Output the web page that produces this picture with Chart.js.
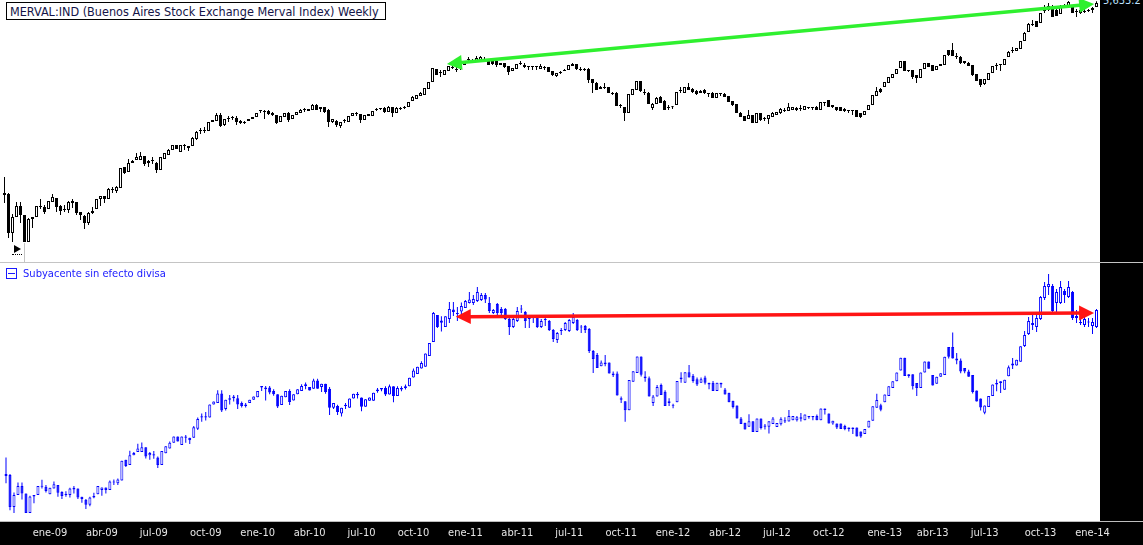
<!DOCTYPE html>
<html>
<head>
<meta charset="utf-8">
<script src="https://cdn.jsdelivr.net/npm/chart.js@4.4.1/dist/chart.umd.min.js"></script>
<style>
  html, body { margin:0; padding:0; background:#fff; }
  body { width:1143px; height:545px; position:relative; overflow:hidden; font-family: Tahoma, 'DejaVu Sans Condensed', 'Liberation Sans', sans-serif; }
  canvas { position:absolute; left:0; }
  #cTop { top:0; }
  #cBot { top:264px; }
  #rightBar { position:absolute; left:1100px; top:0; width:43px; height:545px; background:#000; }
  #axisBand { position:absolute; left:0; top:521px; width:1143px; height:24px; background:#000; border-top:1px solid #bdbdbd; box-sizing:border-box; }
  #sep { position:absolute; left:0; top:262px; width:1143px; height:1px; background:#c4c4c4; }
  #price { position:absolute; left:1103px; top:-6px; color:#bfe2ff; font-size:11px; white-space:nowrap; }
  #title { position:absolute; left:6px; top:2px; width:375px; height:16px; border:1px solid #000; background:#fff; color:#141448; line-height:16px; padding-left:3px; white-space:nowrap; }
  #title span { font-size:11px; }
  #legend2 { position:absolute; left:6px; top:265px; color:#1a1aff; line-height:13px; white-space:nowrap; }
  #legend2 .ico { display:inline-block; width:9px; height:9px; border:1px solid #1a1aff; position:relative; vertical-align:-2px; margin-right:6px; }
  #legend2 .ico::after { content:''; position:absolute; left:1px; right:1px; top:4px; height:1px; background:#1a1aff; }
  #legend2 span.t { font-size:11px; }
  .w { position:absolute; }
</style>
</head>
<body>
<div id="rightBar"></div>
<div id="axisBand"></div>
<canvas id="cTop" width="1100" height="262"></canvas>
<canvas id="cBot" width="1143" height="281"></canvas>
<div id="sep"></div>
<div id="title"><span id="titleText">MERVAL:IND (Buenos Aires Stock Exchange Merval Index) Weekly</span></div>
<div id="legend2"><span class="ico"></span><span class="t" id="legText">Subyacente sin efecto divisa</span></div>
<div id="price">5,633.2</div>
<div class="w" style="left:14px;top:245px;width:0;height:0;border-left:7px solid #000;border-top:4px solid transparent;border-bottom:4px solid transparent"></div>
<div class="w" style="left:12px;top:254px;width:10px;height:0;border-top:1px dotted #000"></div>
<div class="w" style="left:24px;top:243px;width:1px;height:19px;background:#c4c4c4"></div>
<script>
// ---------- DATA ----------
const startWeek = '2008-10-20';
const monthAbbr = ['ene','feb','mar','abr','may','jun','jul','ago','sep','oct','nov','dic'];
const quarterMonths = [0,3,6,9];

// MERVAL weekly OHLC (index points)
const tOpen = [
1214,1204,878,1000,1092,1016,817,984,1000,1084,1084,1067,1129,1166,1092,1067,1058,1138,1129,1041,
1008,953,1033,1067,1156,1185,1156,1243,1233,1264,1498,1439,1547,1585,1585,1637,1547,1572,1547,1462,
1598,1650,1718,1789,1691,1789,1775,1775,1878,2004,2020,2004,2155,2173,2280,2103,2226,2226,2226,2173,
2155,2173,2208,2244,2355,2355,2355,2318,2280,2155,2244,2318,2208,2280,2318,2394,2394,2374,2472,2394,
2433,2374,2155,2173,2086,2190,2155,2262,2318,2299,2190,2262,2262,2374,2394,2413,2336,2433,2318,2413,
2413,2433,2554,2595,2659,2680,2814,2978,3307,3228,3150,3254,3362,3307,3334,3416,3585,3528,3528,3556,
3585,3528,3528,3528,3416,3472,3389,3254,3307,3472,3416,3389,3389,3389,3307,3362,3362,3254,3125,3228,
3254,3280,3389,3444,3307,3307,3307,3050,2954,2814,2860,2860,2724,2724,2472,2433,2318,2680,2791,3002,
2747,2724,2413,2492,2638,2554,2433,2433,2472,2791,2724,2860,2814,2769,2724,2791,2724,2724,2616,2724,
2702,2659,2554,2492,2318,2262,2208,2280,2138,2318,2226,2208,2244,2280,2318,2374,2355,2374,2374,2413,
2374,2433,2433,2433,2374,2533,2574,2433,2433,2433,2394,2374,2374,2374,2318,2280,2374,2472,2659,2814,
2860,2954,3075,3176,3334,3528,3280,3280,3150,3075,3307,3472,3416,3280,3389,3416,3855,3855,3674,3644,
3528,3472,3416,3176,3050,2930,3026,3202,3389,3444,3416,3644,3855,3825,3887,4147,4460,4758,4874,4797,
5326,5326,5370,5326,5158,5502,5502,5458,5284,5326,5284,5326,5326,5458];
const tHigh = [
1382,1214,1024,1129,1129,1016,992,1000,1092,1156,1101,1138,1204,1166,1101,1101,1138,1156,1129,1041,
1016,1041,1084,1156,1185,1185,1264,1274,1285,1486,1498,1598,1585,1677,1691,1637,1585,1624,1560,1624,
1677,1732,1789,1789,1789,1804,1775,1909,2004,2053,2070,2155,2190,2318,2318,2208,2262,2262,2262,2190,
2173,2208,2244,2318,2374,2374,2374,2336,2280,2262,2318,2336,2280,2336,2394,2413,2394,2492,2492,2433,
2433,2394,2208,2190,2155,2208,2262,2318,2336,2299,2280,2299,2355,2413,2413,2433,2452,2433,2433,2433,
2452,2533,2659,2680,2747,2837,2978,3334,3307,3280,3280,3389,3416,3389,3444,3500,3644,3585,3674,3674,
3644,3528,3528,3528,3472,3472,3389,3334,3444,3528,3472,3389,3389,3389,3444,3389,3362,3254,3202,3254,
3307,3416,3472,3444,3362,3334,3334,3050,2978,2883,2954,2860,2747,2747,2492,2433,2702,2814,3002,3002,
2814,2747,2513,2638,2659,2574,2472,2452,2747,2860,2860,2954,2837,2791,2791,2814,2724,2747,2724,2724,
2724,2659,2554,2492,2336,2262,2374,2280,2318,2318,2244,2280,2336,2336,2413,2413,2513,2433,2433,2472,
2452,2433,2433,2452,2533,2533,2574,2472,2433,2433,2413,2374,2374,2374,2318,2355,2472,2680,2860,2837,
2978,3100,3176,3307,3528,3528,3280,3280,3150,3307,3472,3472,3416,3389,3444,3703,3855,4081,3764,3674,
3528,3500,3416,3176,3050,3050,3202,3389,3472,3444,3585,3825,3951,3919,4147,4460,4797,4913,4874,5200,
5546,5637,5546,5370,5546,5591,5728,5458,5370,5414,5370,5370,5458,5720];
const tLow = [
1119,844,817,1000,953,817,817,915,1000,1067,1024,1067,1129,1041,1016,1041,1033,1075,1016,976,
907,937,1024,1067,1092,1119,1156,1214,1214,1264,1416,1439,1547,1585,1585,1510,1498,1535,1427,1462,
1598,1650,1718,1732,1691,1718,1704,1775,1863,1956,1972,2004,2155,2173,2070,2086,2155,2190,2103,2120,
2120,2173,2208,2244,2318,2208,2280,2262,2120,2155,2244,2155,2208,2280,2318,2336,2355,2374,2374,2336,
2318,2070,2138,2070,2053,2138,2155,2262,2262,2138,2190,2262,2262,2355,2374,2318,2336,2244,2318,2374,
2394,2433,2554,2595,2659,2680,2814,2978,3150,3100,3150,3254,3307,3228,3280,3416,3472,3472,3528,3556,
3528,3416,3416,3362,3416,3334,3150,3254,3307,3416,3334,3280,3280,3280,3307,3280,3228,3125,3100,3176,
3254,3280,3389,3280,3254,3254,2954,2724,2791,2814,2814,2724,2680,2452,2413,2173,2318,2680,2791,2747,
2680,2492,2374,2492,2513,2374,2374,2394,2472,2724,2724,2791,2724,2680,2724,2702,2638,2616,2616,2659,
2638,2533,2452,2318,2244,2173,2208,2138,2138,2173,2173,2120,2244,2280,2299,2336,2355,2374,2355,2355,
2374,2394,2374,2374,2374,2452,2433,2413,2355,2355,2336,2318,2280,2244,2226,2280,2374,2472,2659,2724,
2860,2954,3075,3176,3334,3254,3228,3050,2954,3075,3307,3362,3254,3280,3389,3416,3674,3674,3585,3444,
3444,3389,3125,3002,2860,2906,3026,3202,3280,3254,3416,3644,3764,3825,3887,4147,4460,4682,4644,4797,
5200,5284,5035,5075,5158,5414,5458,5200,5035,5158,5200,5242,5200,5458];
const tClose = [
1194,878,1000,1092,1016,817,984,1000,1092,1092,1041,1138,1175,1084,1050,1058,1129,1119,1033,1016,
953,1033,1050,1156,1185,1156,1253,1253,1274,1486,1427,1547,1572,1624,1637,1535,1572,1585,1462,1624,
1677,1718,1789,1732,1789,1775,1746,1894,1988,2020,2004,2155,2190,2280,2086,2208,2208,2244,2155,2138,
2138,2208,2244,2318,2374,2336,2299,2280,2138,2262,2318,2190,2280,2336,2374,2374,2355,2472,2374,2433,
2336,2155,2208,2103,2155,2173,2262,2318,2299,2190,2280,2299,2355,2394,2413,2336,2433,2318,2413,2394,
2433,2533,2638,2680,2724,2837,2978,3334,3150,3202,3280,3389,3334,3280,3389,3500,3556,3500,3615,3644,
3556,3416,3444,3416,3472,3362,3228,3334,3444,3444,3362,3362,3362,3362,3389,3334,3228,3150,3202,3202,
3280,3416,3444,3307,3280,3280,3026,2954,2791,2860,2837,2724,2702,2452,2452,2318,2702,2814,3002,2769,
2724,2492,2492,2616,2513,2374,2413,2425,2747,2769,2860,2791,2747,2702,2769,2724,2702,2616,2724,2702,
2638,2533,2472,2318,2244,2173,2280,2138,2318,2190,2208,2280,2318,2336,2394,2355,2433,2433,2413,2394,
2452,2413,2413,2374,2533,2513,2433,2472,2374,2355,2355,2355,2355,2244,2244,2355,2472,2680,2769,2747,
2978,3100,3176,3307,3528,3254,3254,3100,3075,3307,3472,3362,3254,3389,3444,3703,3703,3674,3644,3472,
3472,3389,3150,3002,2906,3050,3202,3389,3416,3416,3585,3794,3825,3919,4147,4425,4758,4719,4644,5200,
5284,5502,5035,5075,5458,5546,5682,5200,5242,5200,5242,5284,5414,5633.2];

// Underlying without currency effect (deflated points, linear panel)
const bOpen = [
1190,1180,860,980,1070,996,801,964,980,1062,1062,
987,1044,1079,1010,987,979,1053,1044,963,932,882,956,987,
1029,1055,1029,1106,1097,1125,1333,1281,1377,1411,1411,1457,1377,
1376,1354,1279,1398,1444,1503,1565,1480,1565,1553,1553,1643,1754,
1768,1754,1886,1901,1995,1840,1948,1948,1948,1901,1886,1901,1932,
1957,2054,2054,2054,2021,1988,1879,1957,2021,1925,1988,2021,2088,
2059,2042,2126,2059,2092,2042,1853,1869,1794,1883,1853,1945,1993,
1954,1862,1923,1923,2018,2035,2051,1986,2068,1970,2051,2051,2068,
2156,2190,2244,
2262,2370,2510,2780,2724,2659,2740,2835,2800,2814,
2850,2900,2900,2920,2930,2980,2900,2800,2890,2840,2840,2740,2660,
2720,2840,2810,2745,2760,2760,2660,2735,2720,2630,2530,2625,2630,
2620,2700,2730,2665,2670,2640,2420,
2381,2268,2305,2305,2196,2196,
1948,1917,1827,2112,2199,2366,2165,2147,1901,1964,2079,2013,1917,
1878,1908,2155,2103,2208,2172,2138,2103,2155,2103,2103,2020,2103,
2035,2002,1923,1876,1745,1703,1663,1717,1610,1745,1676,1663,1690,
1660,1688,1728,1714,1728,1728,1757,1728,1771,1771,1771,1728,1844,
1794,1696,1696,1696,1669,1655,1655,1655,1616,1589,1655,1723,1853,
1877,1908,1970,2051,2118,2224,2353,2188,2188,2101,2051,2206,2316,
2179,2093,2162,2179,2459,2459,2344,2325,2251,2215,2179,2026,1946,
1802,1861,1969,2084,2118,2033,2168,2294,2276,2313,
2470,2590,2700,2660,2740,2950,3060,3070,2900,2900,3020,2960,3010,2770,2710,2680,2715,2670,2660];
const bHigh = [
1354,1190,1004,1106,1106,996,972,980,1070,1133,1079,
1053,1114,1079,1018,1018,1053,1069,1044,963,940,963,1003,1069,
1055,1055,1125,1134,1144,1323,1333,1422,1411,1493,1505,1457,1411,
1421,1365,1421,1467,1516,1565,1565,1565,1579,1553,1670,1754,1796,
1811,1886,1916,2028,2028,1932,1979,1979,1979,1916,1901,1932,1964,
2021,2070,2070,2070,2037,1988,1972,2021,2037,1988,2037,2088,2104,
2059,2143,2143,2092,2092,2059,1899,1883,1853,1899,1945,1993,2009,
1954,1938,1954,2002,2051,2051,2068,2084,2068,2068,2068,2084,2153,
2244,2262,2318,
2394,2500,2810,2780,2768,2768,2910,2910,2860,2905,
2930,3010,2980,3060,3000,3000,2960,2840,2900,2860,2850,2750,2750,
2860,2880,2820,2760,2780,2770,2740,2760,2730,2640,2610,2650,2710,
2740,2800,2740,2680,2680,2650,2430,
2400,2324,2381,2305,2214,2214,
1964,1917,2129,2217,2366,2366,2217,2165,1980,2079,2095,2028,1948,
1893,2121,2208,2208,2280,2190,2155,2155,2172,2103,2121,2103,2103,
2051,2002,1923,1876,1759,1703,1788,1717,1745,1745,1690,1717,1759,
1701,1757,1757,1829,1771,1771,1800,1785,1771,1771,1785,1844,1844,
1794,1723,1696,1696,1682,1655,1655,1655,1616,1641,1723,1868,1993,
1892,1986,2068,2118,2206,2353,2353,2188,2188,2101,2206,2316,2316,
2179,2162,2197,2363,2459,2604,2401,2344,2251,2233,2179,2026,1946,
1876,1969,2084,2135,2118,2133,2276,2351,2332,2467,
2620,2760,2810,2780,2970,3110,3190,3090,3040,3120,3040,3120,3020,2830,2780,2760,2750,2750,2840];
const bLow = [
1097,827,801,980,934,801,801,897,980,1046,1004,
987,1044,963,940,963,956,994,940,903,839,867,947,987,
972,996,1029,1080,1080,1125,1260,1281,1377,1411,1411,1344,1333,
1343,1249,1279,1398,1444,1503,1516,1480,1503,1491,1553,1630,1712,
1726,1754,1886,1901,1811,1825,1886,1916,1840,1855,1855,1901,1932,
1957,2021,1925,1988,1972,1849,1879,1957,1879,1925,1988,2021,2037,
2025,2042,2042,2009,1993,1780,1839,1780,1766,1839,1853,1945,1945,
1817,1862,1923,1923,2002,2018,1970,1986,1907,1970,2018,2035,2068,
2156,2190,2244,
2262,2370,2510,2650,2616,2659,2700,2770,2720,2770,
2850,2895,2880,2910,2920,2900,2800,2790,2760,2780,2730,2580,2650,
2710,2800,2650,2650,2700,2650,2650,2670,2620,2510,2500,2580,2620,
2610,2690,2620,2600,2600,2400,2200,
2250,2268,2268,2196,2160,1976,
1901,1712,1827,2112,2199,2165,2112,1964,1871,1964,1980,1871,1871,
1848,1908,2103,2103,2155,2103,2069,2103,2086,2037,2020,2020,2053,
1986,1907,1846,1745,1690,1636,1663,1610,1610,1636,1636,1596,1690,
1660,1674,1701,1714,1728,1714,1714,1728,1743,1728,1728,1728,1785,
1696,1682,1641,1641,1628,1616,1589,1564,1552,1589,1655,1723,1853,
1817,1908,1970,2051,2118,2224,2170,2153,2034,1970,2051,2206,2242,
2076,2093,2162,2179,2344,2344,2287,2197,2197,2162,1994,1915,1825,
1787,1861,1969,2017,2001,2033,2168,2240,2276,2313,
2460,2580,2630,2610,2730,2930,2980,2800,2800,2890,2900,2950,2730,2700,2680,2660,2660,2590,2650];
const bClose = [
1170,860,980,1070,996,801,964,980,1070,1070,1020,
1053,1087,1003,971,979,1044,1035,956,940,882,956,971,1069,
1055,1029,1115,1115,1134,1323,1270,1377,1399,1445,1457,1366,1399,
1387,1279,1421,1467,1503,1565,1516,1565,1553,1528,1657,1740,1768,
1754,1886,1916,1995,1825,1932,1932,1964,1886,1871,1871,1932,1964,
2021,2070,2037,2005,1988,1864,1972,2021,1910,1988,2037,2070,2070,
2025,2126,2042,2092,2009,1853,1899,1809,1853,1869,1945,1993,1977,
1862,1938,1954,2002,2035,2051,1986,2068,1970,2051,2035,2068,2153,
2226,2262,2299,
2394,2500,2800,2660,2702,2768,2840,2810,2790,2870,
2920,2935,2940,3010,2980,2935,2820,2830,2800,2800,2740,2660,2740,
2820,2835,2720,2740,2755,2660,2720,2730,2630,2540,2600,2620,2700,
2730,2760,2630,2655,2630,2420,2340,
2250,2305,2287,2196,2178,1976,
1932,1827,2129,2217,2366,2182,2147,1964,1964,2061,1980,1871,1901,
1872,2121,2138,2208,2155,2121,2086,2138,2103,2086,2020,2103,2086,
1986,1907,1861,1745,1690,1636,1717,1610,1745,1649,1663,1717,1745,
1701,1743,1714,1771,1771,1757,1743,1785,1757,1757,1728,1844,1829,
1696,1723,1655,1641,1641,1641,1641,1564,1564,1641,1723,1868,1930,
1832,1986,2068,2118,2206,2353,2170,2170,2068,2051,2206,2316,2242,
2076,2162,2197,2363,2363,2344,2325,2215,2215,2162,2010,1915,1854,
1876,1969,2084,2101,2101,2133,2257,2276,2332,2467,
2580,2720,2680,2750,2960,3070,3090,2820,3010,3060,2980,3060,2750,2750,2700,2740,2705,2710,2830];

// Annotation arrows [week index, value]
const greenArrowFrom = [110.6, 3444];
const greenArrowTo = [272.4, 5591];
const redArrowFrom = [112.6, 2763];
const redArrowTo = [272.4, 2800];

// ---------- BUILD ----------
const weeks = [];
{
  let t = Date.parse(startWeek + 'T00:00:00Z');
  for (let i = 0; i < tClose.length; i++) { weeks.push(new Date(t).toISOString().slice(0, 10)); t += 7 * 864e5; }
}
const FONT = "Tahoma, 'DejaVu Sans Condensed', 'Liberation Sans', sans-serif";

function fitWidth(el, target) {
  const c = document.createElement('canvas').getContext('2d');
  c.font = '11px ' + getComputedStyle(el).fontFamily;
  const w = c.measureText(el.textContent).width;
  if (w > 0) el.style.fontSize = (11 * target / w).toFixed(2) + 'px';
}
fitWidth(document.getElementById('titleText'), 369);
fitWidth(document.getElementById('legText'), 143);

function candleSets(O, H, L, C, color, upFill) {
  const bodies = O.map((o, i) => [Math.min(o, C[i]), Math.max(o, C[i])]);
  const wicks = H.map((h, i) => [L[i], h]);
  const fills = O.map((o, i) => (C[i] >= o ? upFill : color));
  return [
    { label: 'body', data: bodies, backgroundColor: fills, borderColor: color, borderWidth: 1, borderSkipped: false,
      barThickness: 3, minBarLength: 1, grouped: false, order: 0, inflateAmount: 0 },
    { label: 'wick', data: wicks, backgroundColor: color, borderWidth: 0, barThickness: 1,
      grouped: false, order: 1, inflateAmount: 0 }
  ];
}

const arrowPlugin = {
  id: 'arrows',
  afterDatasetsDraw(chart, args, opts) {
    const ctx = chart.ctx, xs = chart.scales.x, ys = chart.scales.y;
    (opts.items || []).forEach(a => {
      const x1 = xs.getPixelForValue(a.from[0]), y1 = ys.getPixelForValue(a.from[1]);
      const x2 = xs.getPixelForValue(a.to[0]), y2 = ys.getPixelForValue(a.to[1]);
      const ang = Math.atan2(y2 - y1, x2 - x1), c = Math.cos(ang), s = Math.sin(ang);
      const Lh = 15, W = 7.5;
      ctx.save();
      ctx.strokeStyle = a.color; ctx.fillStyle = a.color; ctx.lineWidth = a.width;
      ctx.beginPath();
      ctx.moveTo(x1 + c * Lh * 0.8, y1 + s * Lh * 0.8);
      ctx.lineTo(x2 - c * Lh * 0.8, y2 - s * Lh * 0.8);
      ctx.stroke();
      const head = (tx, ty, dir) => {
        const bx = tx - dir * c * Lh, by = ty - dir * s * Lh;
        ctx.beginPath(); ctx.moveTo(tx, ty);
        ctx.lineTo(bx - s * W, by + c * W); ctx.lineTo(bx + s * W, by - c * W);
        ctx.closePath(); ctx.fill();
      };
      head(x2, y2, 1); head(x1, y1, -1);
      ctx.restore();
    });
  }
};

function tickLabel(v, idx) {
  const s = weeks[idx]; if (!s) return '';
  const m = +s.slice(5, 7) - 1, day = +s.slice(8, 10);
  return (day <= 7 && quarterMonths.includes(m)) ? monthAbbr[m] + '-' + s.slice(2, 4) : '';
}

new Chart(document.getElementById('cTop'), {
  type: 'bar',
  data: { labels: weeks, datasets: candleSets(tOpen, tHigh, tLow, tClose, '#000000', '#ffffff') },
  plugins: [arrowPlugin],
  options: {
    responsive: false, animation: false, devicePixelRatio: 1, events: [],
    layout: { padding: { left: 2.5, right: 1.5, top: 0, bottom: 0 } },
    plugins: { legend: { display: false }, tooltip: { enabled: false }, title: { display: false },
      arrows: { items: [{ from: greenArrowFrom, to: greenArrowTo, color: '#2ff02f', width: 3.5 }] } },
    scales: {
      x: { display: false, offset: true },
      y: { type: 'logarithmic', display: false, min: 695, max: 5774, bounds: 'data' }
    }
  }
});

new Chart(document.getElementById('cBot'), {
  type: 'bar',
  data: { labels: weeks, datasets: candleSets(bOpen, bHigh, bLow, bClose, '#0000ff', '#ffffff') },
  plugins: [arrowPlugin],
  options: {
    responsive: false, animation: false, devicePixelRatio: 1, events: [],
    layout: { padding: { left: 2.5, right: 44.5, top: 0, bottom: 0 } },
    plugins: { legend: { display: false }, tooltip: { enabled: false },
      arrows: { items: [{ from: redArrowFrom, to: redArrowTo, color: '#ff1414', width: 3.5 }] } },
    scales: {
      x: { offset: true, grid: { display: false, drawTicks: false }, border: { display: false },
        ticks: { autoSkip: false, maxRotation: 0, minRotation: 0, color: '#e6e6e6', padding: 6,
          font: { size: 11, family: FONT }, callback: tickLabel },
        afterFit: s => { s.height = 24; } },
      y: { type: 'linear', display: false, min: 720, max: 3290, bounds: 'data' }
    }
  }
});
</script>
</body>
</html>
